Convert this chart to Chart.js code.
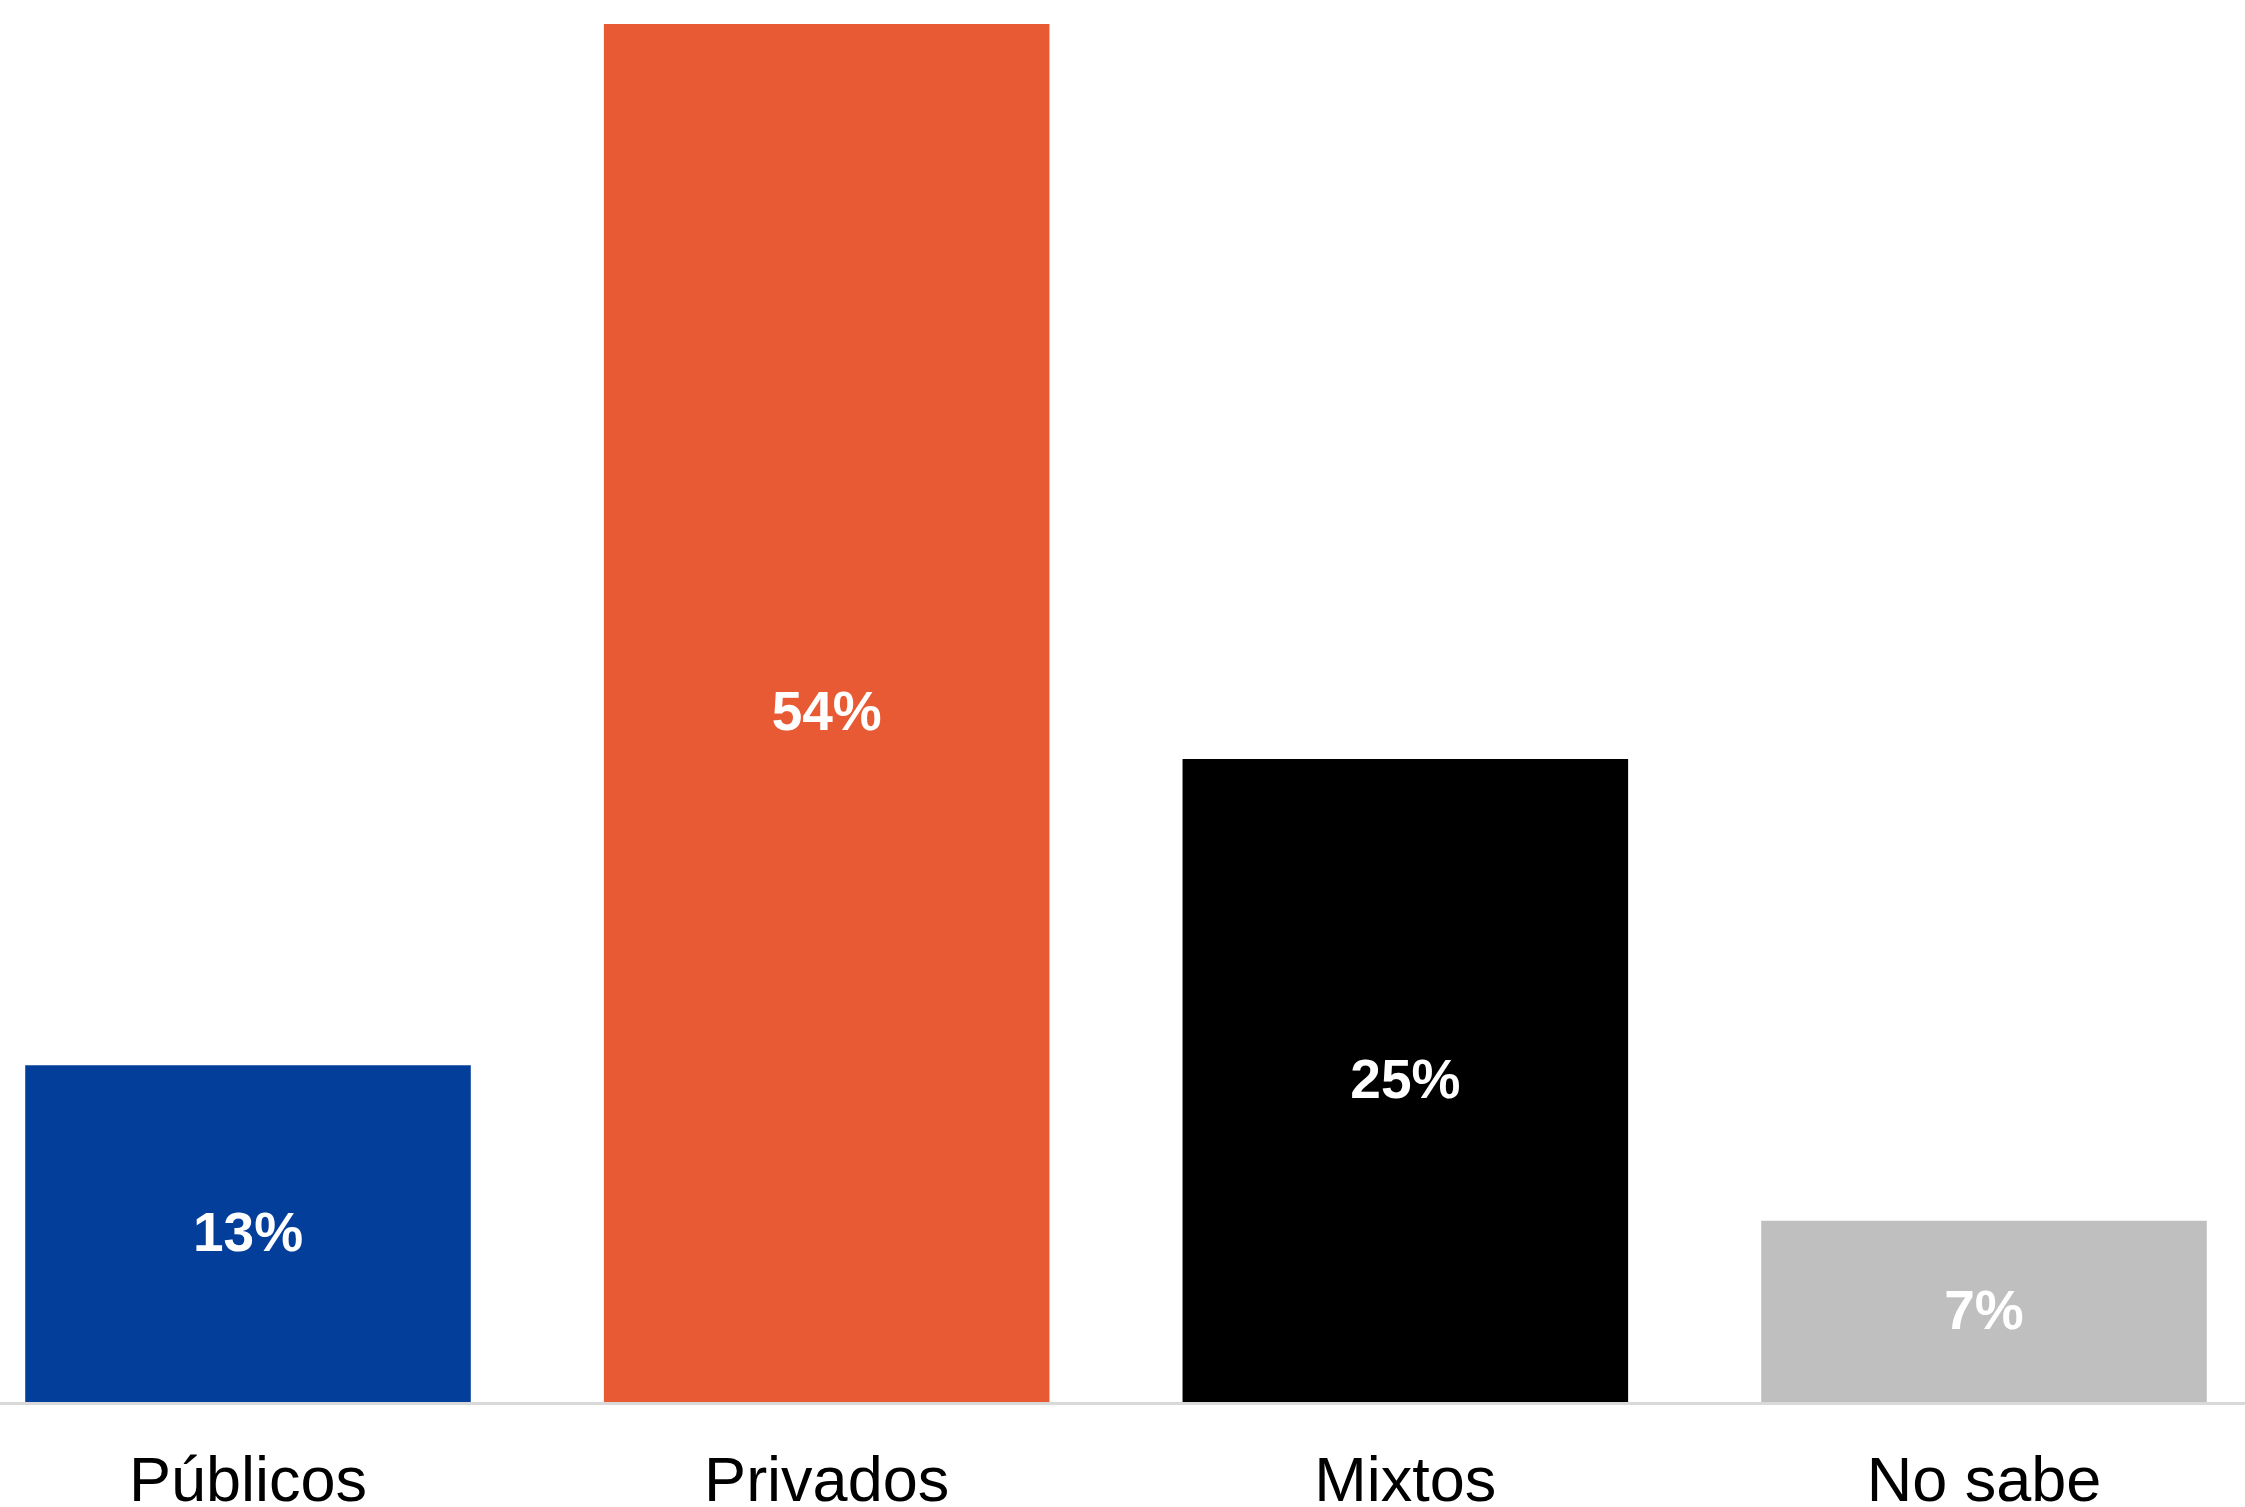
<!DOCTYPE html>
<html>
<head>
<meta charset="utf-8">
<script src="https://cdn.jsdelivr.net/npm/chart.js@4"></script>
<style>
html, body { margin: 0; padding: 0; background: #ffffff; }
#wrap { width: 2245px; height: 1507px; }
</style>
</head>
<body>
<div id="wrap"><canvas id="chart" width="2245" height="1507"></canvas></div>
<script>
// Data
const categories = ["Públicos", "Privados", "Mixtos", "No sabe"];
const values = [13.2, 54, 25.2, 7.1];
const valueLabels = ["13%", "54%", "25%", "7%"];
const barColors = ["#043e9b", "#e85a34", "#000000", "#bfbfbf"];

// Gray baseline across the whole width
const baselinePlugin = {
id: "baseline",
beforeDatasetsDraw(chart) {
const ctx = chart.ctx;
const y = chart.scales.y.getPixelForValue(0);
ctx.save();
ctx.strokeStyle = "#d9d9d9";
ctx.lineWidth = 3;
ctx.beginPath();
ctx.moveTo(0, y + 1.5);
ctx.lineTo(chart.width, y + 1.5);
ctx.stroke();
ctx.restore();
}
};

// White value labels in the middle of each bar
const valueLabelPlugin = {
id: "valueLabels",
afterDatasetsDraw(chart) {
const ctx = chart.ctx;
const meta = chart.getDatasetMeta(0);
ctx.save();
ctx.fillStyle = "#ffffff";
ctx.font = "bold 55px 'Liberation Sans', Arial, sans-serif";
ctx.textAlign = "center";
ctx.textBaseline = "middle";
meta.data.forEach((bar, i) => {
const mid = (bar.y + bar.base) / 2;
ctx.fillText(valueLabels[i], bar.x, mid + 2);
});
ctx.restore();
}
};

new Chart(document.getElementById("chart"), {
type: "bar",
data: {
labels: categories,
datasets: [{
data: values,
backgroundColor: barColors,
borderWidth: 0,
categoryPercentage: 0.77,
barPercentage: 1,
clip: false
}]
},
options: {
responsive: false,
animation: false,
events: [],
layout: {
padding: { left: 248, right: 261, top: 24, bottom: 0 }
},
plugins: {
legend: { display: false },
tooltip: { enabled: false }
},
scales: {
x: {
offset: false,
grid: { display: false, drawTicks: false },
border: { display: false },
ticks: {
color: "#000000",
padding: 50,
font: { family: "'Liberation Sans', Arial, sans-serif", size: 63, lineHeight: 1 }
},
afterFit(scale) {
scale.height = 105;
}
},
y: {
display: false,
min: 0,
max: 54
}
}
},
plugins: [baselinePlugin, valueLabelPlugin]
});
</script>
</body>
</html>
